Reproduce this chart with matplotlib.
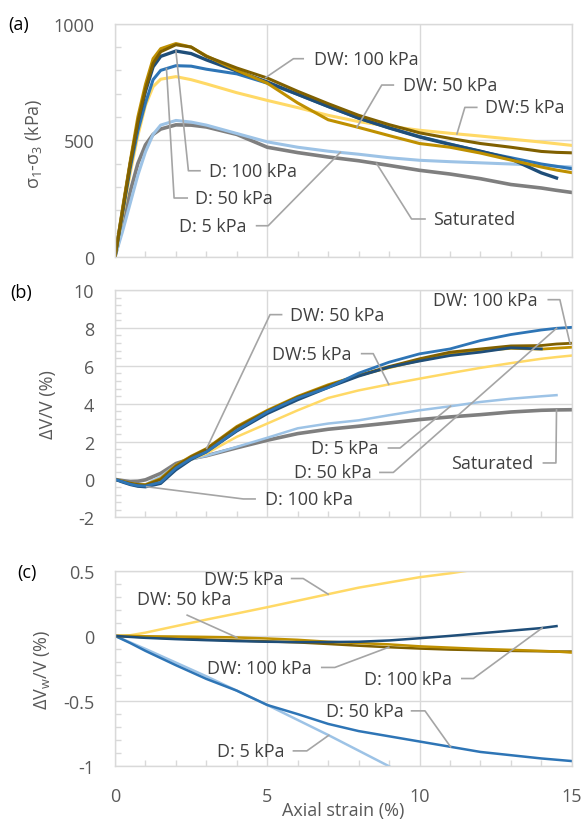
import numpy as np
import matplotlib.pyplot as plt
from matplotlib.ticker import MultipleLocator, FuncFormatter

plt.rcParams['font.family'] = ['Open Sans', 'DejaVu Sans']
plt.rcParams['mathtext.fontset'] = 'custom'
plt.rcParams['mathtext.rm'] = 'Open Sans'
plt.rcParams['mathtext.it'] = 'Open Sans:italic'
plt.rcParams['axes.unicode_minus'] = False

nan = np.nan

# (a) deviator stress, kPa
strain_a = [0, 0.25, 0.5, 0.75, 1.0, 1.25, 1.5, 2.0, 2.5, 3, 4, 5, 6, 7, 8, 9, 10, 11, 12, 13, 14, 14.5, 15]
q_dw100 = [0, 200, 400, 580, 720, 830, 880, 910, 900, 860, 810, 767, 710, 657, 607, 567, 532, 508, 486, 470, 452, 448, 446]
q_dw50 = [0, 210, 410, 600, 740, 850, 893, 915, 900, 862, 800, 745, 660, 588, 555, 520, 486, 470, 445, 415, 385, 372, 361]
q_dw5 = [0, 180, 360, 520, 650, 730, 762, 773, 760, 742, 704, 671, 640, 607, 580, 560, 543, 530, 518, 505, 492, 485, 478]
q_d100 = [0, 200, 400, 575, 710, 815, 860, 883, 872, 845, 797, 750, 697, 645, 595, 553, 514, 482, 453, 420, 360, 338, nan]
q_d50 = [0, 190, 380, 540, 660, 760, 800, 820, 818, 805, 785, 745, 697, 645, 595, 553, 516, 484, 452, 425, 398, 388, 378]
q_d5 = [0, 110, 230, 350, 450, 525, 565, 585, 578, 565, 529, 493, 470, 453, 440, 425, 414, 408, 403, 398, 392, 388, 385]
q_sat = [0, 140, 280, 400, 480, 525, 548, 566, 565, 557, 525, 470, 447, 428, 412, 392, 371, 355, 335, 310, 295, 285, 276]

# (b) volumetric strain, %
strain_b = [0, 0.25, 0.5, 0.75, 1.0, 1.5, 2, 2.5, 3, 4, 5, 6, 7, 8, 9, 10, 11, 12, 13, 14, 14.5, 15]
ev_dw100 = [0, -0.1, -0.2, -0.27, -0.3, 0.0, 0.7, 1.2, 1.6, 2.75, 3.6, 4.35, 4.95, 5.49, 5.96, 6.37, 6.72, 6.89, 7.05, 7.07, 7.15, 7.19]
ev_dw50 = [0, -0.1, -0.2, -0.27, -0.28, 0.05, 0.75, 1.23, 1.63, 2.8, 3.65, 4.39, 5.0, 5.49, 5.9, 6.28, 6.6, 6.8, 6.92, 6.88, 6.93, 6.98]
ev_dw5 = [0, -0.1, -0.2, -0.27, -0.28, 0.0, 0.65, 1.05, 1.37, 2.25, 2.95, 3.65, 4.3, 4.7, 5.02, 5.32, 5.61, 5.89, 6.14, 6.37, 6.46, 6.54]
ev_d100 = [0, -0.15, -0.28, -0.37, -0.4, -0.22, 0.5, 1.05, 1.45, 2.55, 3.47, 4.2, 4.85, 5.45, 5.93, 6.25, 6.54, 6.72, 6.95, 6.89, nan, nan]
ev_d50 = [0, -0.12, -0.25, -0.33, -0.35, -0.15, 0.6, 1.1, 1.45, 2.6, 3.56, 4.3, 4.85, 5.61, 6.19, 6.63, 6.89, 7.33, 7.65, 7.89, 7.98, 8.03]
ev_d5 = [0, -0.12, -0.22, -0.27, -0.26, 0.15, 0.75, 1.05, 1.25, 1.72, 2.2, 2.7, 2.95, 3.12, 3.39, 3.65, 3.86, 4.09, 4.26, 4.39, 4.45, nan]
ev_sat = [0, -0.06, -0.12, -0.1, -0.02, 0.32, 0.84, 1.1, 1.25, 1.67, 2.07, 2.42, 2.65, 2.81, 2.98, 3.16, 3.3, 3.42, 3.56, 3.65, 3.67, 3.68]

# (c) water volume change, %
strain_c = [0, 0.5, 1, 2, 3, 4, 5, 6, 7, 8, 9, 10, 11, 12, 13, 14, 14.5, 15]
ew_dw100 = [0, -0.005, -0.01, -0.02, -0.028, -0.035, -0.042, -0.05, -0.062, -0.075, -0.087, -0.097, -0.105, -0.11, -0.115, -0.118, -0.12, -0.12]
ew_dw50 = [0, 0, -0.003, -0.005, -0.008, -0.012, -0.02, -0.03, -0.045, -0.055, -0.065, -0.08, -0.09, -0.1, -0.107, -0.115, -0.12, -0.128]
ew_dw5 = [0, 0.005, 0.025, 0.075, 0.125, 0.172, 0.22, 0.27, 0.32, 0.37, 0.41, 0.45, 0.48, 0.515, nan, nan, nan, nan]
ew_d100 = [0, -0.008, -0.015, -0.025, -0.033, -0.04, -0.045, -0.048, -0.047, -0.045, -0.035, -0.018, 0.0, 0.02, 0.04, 0.06, 0.075, nan]
ew_d50 = [0, -0.055, -0.115, -0.225, -0.33, -0.42, -0.53, -0.6, -0.675, -0.73, -0.77, -0.81, -0.85, -0.89, -0.915, -0.94, -0.95, -0.96]
ew_d5 = [0, -0.05, -0.1, -0.205, -0.31, -0.42, -0.53, -0.645, -0.76, -0.88, -1.0, nan, nan, nan, nan, nan, nan, nan]

c_dw100 = '#806000'
c_dw50 = '#BF9000'
c_dw5 = '#FFD966'
c_d100 = '#1F4E79'
c_d50 = '#2E75B6'
c_d5 = '#9DC3E6'
c_sat = '#7F7F7F'
grid_c = '#D9D9D9'
lead_c = '#A5A5A5'
txt_c = '#404040'

fig = plt.figure(figsize=(5.83, 8.2), dpi=100)
ax_a = fig.add_axes([0.1973, 0.6857, 0.7834, 0.2841])
ax_b = fig.add_axes([0.1973, 0.3679, 0.7834, 0.2772])
ax_c = fig.add_axes([0.1973, 0.0643, 0.7834, 0.2385])


def style(ax, lo, hi, step):
    ax.set_xlim(0, 15)
    ax.set_ylim(lo, hi)
    ax.xaxis.set_major_locator(MultipleLocator(5))
    ax.xaxis.set_minor_locator(MultipleLocator(1))
    ax.yaxis.set_major_locator(MultipleLocator(step))
    ax.yaxis.set_minor_locator(MultipleLocator(step / 5))
    ax.yaxis.set_major_formatter(FuncFormatter(lambda v, p: '{:g}'.format(round(v, 6))))
    ax.grid(True, which='major', color=grid_c, lw=1)
    ax.set_axisbelow(True)
    ax.tick_params(which='major', length=0, pad=15, labelsize=13, labelcolor='#595959')
    ax.tick_params(which='minor', direction='in', length=4, width=1, color=grid_c)
    for s in ax.spines.values():
        s.set_color(grid_c)
        s.set_linewidth(1)


def callout(ax, label, xs, ys, at, elbow, tip, text_xy, ha):
    xs = np.asarray(xs, float)
    ys = np.asarray(ys, float)
    ok = ~np.isnan(ys)
    yc = np.interp(at, xs[ok], ys[ok])
    px = [at, elbow[0]]
    py = [yc, elbow[1]]
    if tip is not None:
        px.append(tip)
        py.append(elbow[1])
    ax.plot(px, py, color=lead_c, lw=1.2, zorder=5, clip_on=False)
    ax.text(text_xy[0], text_xy[1], label, ha=ha, va='center', fontsize=13,
            color=txt_c, zorder=6)


# (a)
style(ax_a, 0, 1000, 500)
ax_a.tick_params(axis='x', labelbottom=False)
ax_a.plot(strain_a, q_sat, color=c_sat, lw=2.6)
ax_a.plot(strain_a, q_d5, color=c_d5, lw=2.2)
ax_a.plot(strain_a, q_dw5, color=c_dw5, lw=2.2)
ax_a.plot(strain_a, q_d50, color=c_d50, lw=2.2)
ax_a.plot(strain_a, q_d100, color=c_d100, lw=2.4)
ax_a.plot(strain_a, q_dw50, color=c_dw50, lw=2.2)
ax_a.plot(strain_a, q_dw100, color=c_dw100, lw=2.2)
ax_a.set_ylabel(r'σ$_1$-σ$_3$ (kPa)', fontsize=13, color='#595959')
ax_a.yaxis.set_label_coords(-0.155, 0.49)

callout(ax_a, 'DW: 100 kPa', strain_a, q_dw100, 4.95, (5.86, 850), 6.18, (6.55, 850), 'left')
callout(ax_a, 'DW: 50 kPa', strain_a, q_dw50, 7.95, (8.76, 737), 9.14, (9.45, 737), 'left')
callout(ax_a, 'DW:5 kPa', strain_a, q_dw5, 11.23, (11.49, 641), 11.88, (12.15, 641), 'left')
callout(ax_a, 'D: 100 kPa', strain_a, q_d100, 2.0, (2.41, 369), 2.79, (3.1, 369), 'left')
callout(ax_a, 'D: 50 kPa', strain_a, q_d50, 1.69, (1.94, 252), 2.37, (2.63, 252), 'left')
callout(ax_a, 'D: 5 kPa', strain_a, q_d5, 7.4, (5.03, 133), 4.65, (4.33, 133), 'right')
callout(ax_a, 'Saturated', strain_a, q_sat, 8.59, (9.74, 162), 10.18, (10.44, 162), 'left')

# (b)
style(ax_b, -2, 10, 2)
ax_b.tick_params(axis='x', labelbottom=False)
ax_b.plot(strain_b, ev_sat, color=c_sat, lw=2.6)
ax_b.plot(strain_b, ev_d5, color=c_d5, lw=1.8)
ax_b.plot(strain_b, ev_dw5, color=c_dw5, lw=1.8)
ax_b.plot(strain_b, ev_dw50, color=c_dw50, lw=2.0)
ax_b.plot(strain_b, ev_dw100, color=c_dw100, lw=2.0)
ax_b.plot(strain_b, ev_d100, color=c_d100, lw=2.0)
ax_b.plot(strain_b, ev_d50, color=c_d50, lw=2.0)
ax_b.set_ylabel('ΔV/V (%)', fontsize=13, color='#595959')
ax_b.yaxis.set_label_coords(-0.127, 0.5)

callout(ax_b, 'DW: 50 kPa', strain_b, ev_dw50, 3.01, (5.09, 8.7), 5.47, (5.75, 8.7), 'left')
callout(ax_b, 'DW:5 kPa', strain_b, ev_dw5, 8.99, (8.48, 6.64), 8.1, (7.77, 6.64), 'right')
callout(ax_b, 'DW: 100 kPa', strain_b, ev_dw100, 14.94, (14.61, 9.49), 14.23, (13.89, 9.49), 'right')
callout(ax_b, 'D: 5 kPa', strain_b, ev_d5, 11.02, (9.36, 1.66), 8.98, (8.64, 1.66), 'right')
callout(ax_b, 'D: 50 kPa', strain_b, ev_d50, 14.5, (9.14, 0.37), 8.7, (8.43, 0.37), 'right')
callout(ax_b, 'D: 100 kPa', strain_b, ev_d100, 1.04, (4.21, -1.03), 4.6, (4.93, -1.03), 'left')
callout(ax_b, 'Saturated', strain_b, ev_sat, 14.5, (14.48, 0.87), 14.07, (13.73, 0.87), 'right')

# (c)
style(ax_c, -1, 0.5, 0.5)
ax_c.plot(strain_c, ew_dw5, color=c_dw5, lw=1.8)
ax_c.plot(strain_c, ew_d5, color=c_d5, lw=1.8)
ax_c.plot(strain_c, ew_d50, color=c_d50, lw=1.8)
ax_c.plot(strain_c, ew_dw100, color=c_dw100, lw=1.8)
ax_c.plot(strain_c, ew_dw50, color=c_dw50, lw=1.8)
ax_c.plot(strain_c, ew_d100, color=c_d100, lw=1.8)
ax_c.set_ylabel(r'ΔV$_\mathrm{w}$/V (%)', fontsize=13, color='#595959')
ax_c.yaxis.set_label_coords(-0.138, 0.5)
ax_c.set_xlabel('Axial strain (%)', fontsize=13, color='#595959')
ax_c.xaxis.set_label_coords(0.5, -0.178)

callout(ax_c, 'DW:5 kPa', strain_c, ew_dw5, 7.0, (6.18, 0.44), 5.8, (5.52, 0.44), 'right')
callout(ax_c, 'DW: 50 kPa', strain_c, ew_dw50, 4.0, (2.37, 0.159), None, (0.71, 0.28), 'left')
callout(ax_c, 'DW: 100 kPa', strain_c, ew_dw100, 8.99, (7.22, -0.242), 6.79, (6.46, -0.245), 'right')
callout(ax_c, 'D: 100 kPa', strain_c, ew_d100, 14.03, (11.77, -0.327), 11.39, (11.06, -0.33), 'right')
callout(ax_c, 'D: 50 kPa', strain_c, ew_d50, 11.02, (10.18, -0.575), 9.74, (9.47, -0.578), 'right')
callout(ax_c, 'D: 5 kPa', strain_c, ew_d5, 7.02, (6.3, -0.882), 5.86, (5.55, -0.885), 'right')

for lab, ypx, xpx in [('(a)', 25, 8), ('(b)', 293, 10), ('(c)', 573, 17)]:
    fig.text(xpx / 583, 1 - ypx / 820, lab, fontsize=13, color='black', ha='left', va='center')

fig.savefig('out.png', dpi=100)
